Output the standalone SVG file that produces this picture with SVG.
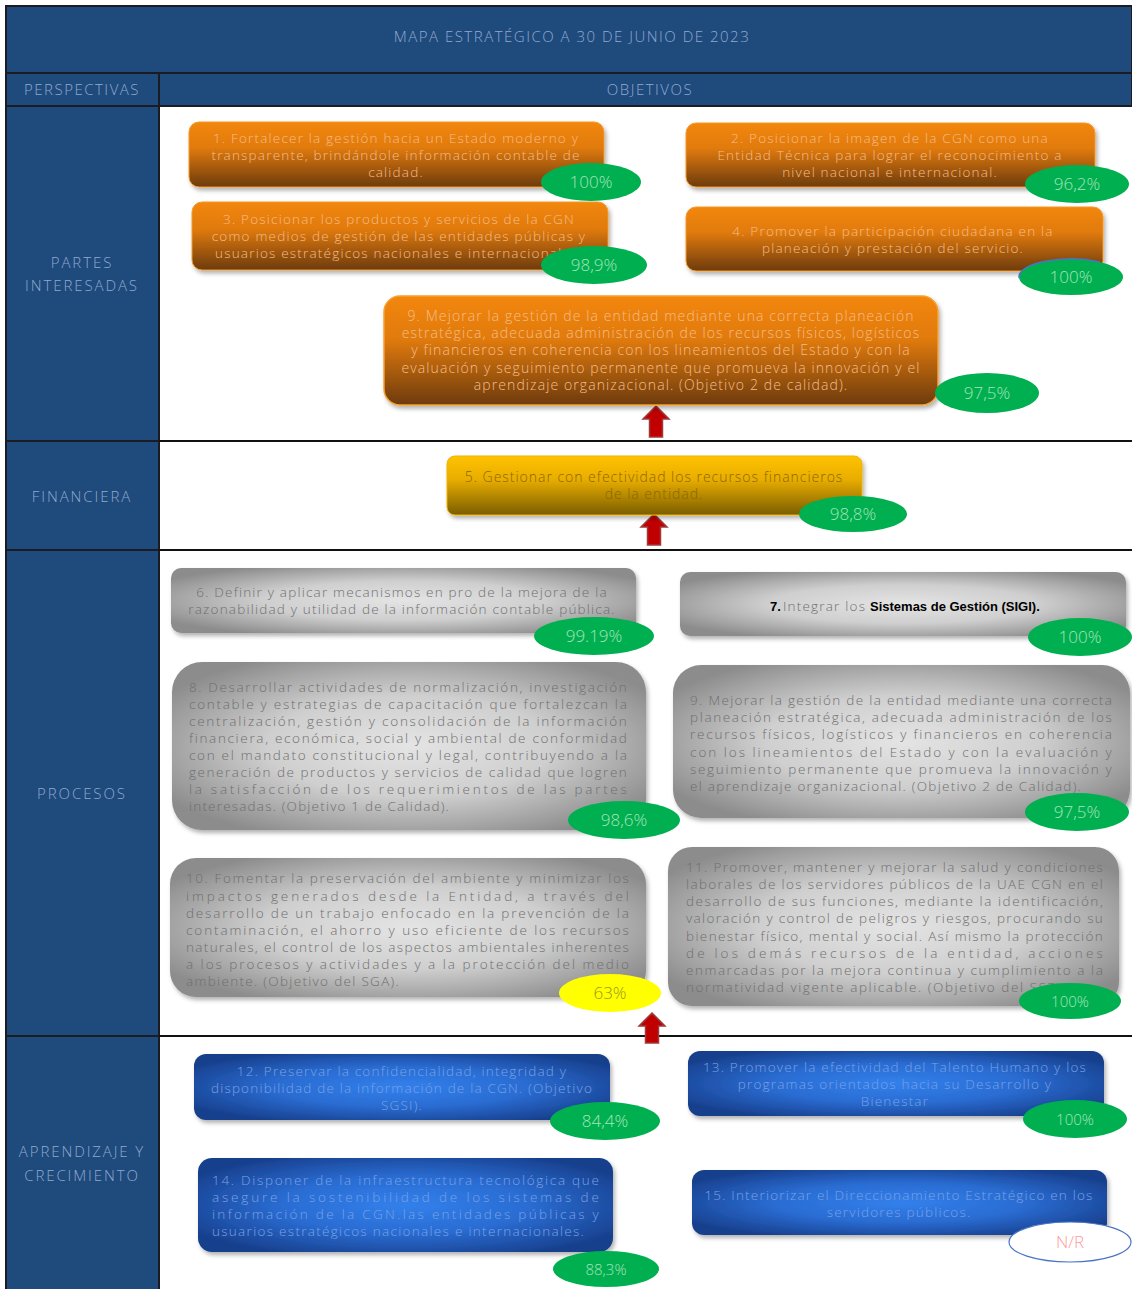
<svg xmlns="http://www.w3.org/2000/svg" width="1132" height="1289" viewBox="0 0 1132 1289">
<style>
.hd{font-family:"Open Sans","Liberation Sans",sans-serif;font-weight:300;font-size:15px;fill:#8fa9d1;text-anchor:middle;letter-spacing:1.5px}
.lb{letter-spacing:1.9px}
.ot{font-family:"Open Sans","Liberation Sans",sans-serif;font-weight:300;font-size:13.5px;letter-spacing:1.2px}
.c{text-anchor:middle}
.or{fill:#f5bd88}
.gd{fill:#8a6800;font-family:"Open Sans","Liberation Sans",sans-serif;font-size:14px;font-weight:300;text-anchor:middle;letter-spacing:0.97px}
.o9{fill:#f5bd88;font-family:"Open Sans","Liberation Sans",sans-serif;font-size:14px;font-weight:300;text-anchor:middle;letter-spacing:1.1px}
.gr{fill:#6f6f6f}
.bl{fill:#7aa2e4}
.pc{font-family:"Open Sans","Liberation Sans",sans-serif;font-weight:300;font-size:17px;fill:#a6e3ba;text-anchor:middle}
.grn{fill:#00b050}
.cell{fill:#1f4a7c;stroke:#1b1b24;stroke-width:2}
.ln{stroke:#111;stroke-width:2}
.arr{fill:#c00000;stroke:#9e3a3a;stroke-width:1.5}
.shb{filter:url(#sh)}
</style>
<defs>
<linearGradient id="gOr" x1="0" y1="0" x2="0" y2="1">
<stop offset="0" stop-color="#f3870f"/>
<stop offset="0.4" stop-color="#e07a0e"/>
<stop offset="1" stop-color="#6d3b0c"/>
</linearGradient>
<linearGradient id="gGd" x1="0" y1="0" x2="0" y2="1">
<stop offset="0" stop-color="#ffc200"/>
<stop offset="0.4" stop-color="#e8ad00"/>
<stop offset="1" stop-color="#7a5d00"/>
</linearGradient>
<radialGradient id="gGr" cx="0.5" cy="0.5" r="0.6">
<stop offset="0" stop-color="#e4e4e4"/>
<stop offset="0.5" stop-color="#cfcfcf"/>
<stop offset="1" stop-color="#8c8c8c"/>
</radialGradient>
<radialGradient id="gBl" cx="0.5" cy="0.5" r="0.6">
<stop offset="0" stop-color="#3280ec"/>
<stop offset="0.5" stop-color="#2a6cd2"/>
<stop offset="1" stop-color="#173f8c"/>
</radialGradient>
<filter id="sh" x="-5%" y="-10%" width="112%" height="130%">
<feDropShadow dx="2" dy="3" stdDeviation="2" flood-color="#000" flood-opacity="0.3"/>
</filter>
</defs>

<g id="table">
<rect class="cell" x="6" y="6" width="1126" height="67"/>
<rect class="cell" x="6" y="73" width="153" height="33"/>
<rect class="cell" x="159" y="73" width="973" height="33"/>
<rect class="cell" x="6" y="106" width="153" height="335"/>
<rect class="cell" x="6" y="441" width="153" height="109"/>
<rect class="cell" x="6" y="550" width="153" height="486"/>
<rect class="cell" x="6" y="1036" width="153" height="254"/>
<line class="ln" x1="159" y1="441" x2="1132" y2="441"/>
<line class="ln" x1="159" y1="550" x2="1132" y2="550"/>
<line class="ln" x1="159" y1="1036" x2="1132" y2="1036"/>
<text class="hd" x="572" y="42">MAPA ESTRATÉGICO A 30 DE JUNIO DE 2023</text>
<text class="hd" x="82" y="95">PERSPECTIVAS</text>
<text class="hd" x="650" y="95">OBJETIVOS</text>
<text class="hd lb" x="82" y="268">PARTES</text>
<text class="hd lb" x="82" y="291">INTERESADAS</text>
<text class="hd lb" x="82" y="502">FINANCIERA</text>
<text class="hd lb" x="82" y="799">PROCESOS</text>
<text class="hd lb" x="82" y="1157">APRENDIZAJE Y</text>
<text class="hd lb" x="82" y="1181">CRECIMIENTO</text>
</g>

<g id="connectors">
<polygon class="arr" points="656,406 669,419 662.5,419 662.5,437 649.5,437 649.5,419 643,419"/>
<polygon class="arr" points="654,514 667,527 660.5,527 660.5,545 647.5,545 647.5,527 641,527"/>
<polygon class="arr" points="652,1013 665,1026 658.5,1026 658.5,1043 645.5,1043 645.5,1026 639,1026"/>
</g>

<g id="obj1">
<rect class="shb" x="189" y="122" width="415" height="65" rx="10" fill="url(#gOr)" stroke="#f39a2e" stroke-width="1"/>
<text class="ot or c" x="396" y="143">1. Fortalecer la gestión hacia un Estado moderno y</text>
<text class="ot or c" x="396" y="160">transparente, brindándole información contable de</text>
<text class="ot or c" x="396" y="177">calidad.</text>
<ellipse class="grn" cx="591" cy="182" rx="50" ry="19"/>
<text class="pc" x="591" y="188">100%</text>
</g>

<g id="obj2">
<rect class="shb" x="686" y="123" width="409" height="64" rx="10" fill="url(#gOr)" stroke="#f39a2e" stroke-width="1"/>
<text class="ot or c" x="890" y="143">2. Posicionar la imagen de la CGN  como una</text>
<text class="ot or c" x="890" y="160">Entidad Técnica para lograr el reconocimiento a</text>
<text class="ot or c" x="890" y="177">nivel nacional e internacional.</text>
<ellipse class="grn" cx="1077" cy="184" rx="52" ry="19"/>
<text class="pc" x="1077" y="190">96,2%</text>
</g>

<g id="obj3">
<rect class="shb" x="192" y="202" width="416" height="68" rx="10" fill="url(#gOr)" stroke="#f39a2e" stroke-width="1"/>
<text class="ot or c" x="399" y="224">3. Posicionar los productos y servicios de la CGN</text>
<text class="ot or c" x="399" y="241">como medios de gestión de las entidades públicas y</text>
<text class="ot or c" x="399" y="258">usuarios estratégicos nacionales e internacionales.</text>
<ellipse class="grn" cx="594" cy="265" rx="53" ry="19"/>
<text class="pc" x="594" y="271">98,9%</text>
</g>

<g id="obj4">
<rect class="shb" x="686" y="207" width="417" height="64" rx="10" fill="url(#gOr)" stroke="#f39a2e" stroke-width="1"/>
<text class="ot or c" x="893" y="236">4.  Promover  la participación ciudadana en la</text>
<text class="ot or c" x="893" y="253">planeación y prestación del servicio.</text>
<ellipse class="grn" cx="1071" cy="277" rx="52" ry="18"/>
<path d="M1019,278 A52,18 0 0 1 1100,262" fill="none" stroke="#4a74c4" stroke-width="1.5"/>
<text class="pc" x="1071" y="283">100%</text>
</g>

<g id="obj9a">
<rect class="shb" x="384" y="296" width="554" height="109" rx="16" fill="url(#gOr)" stroke="#f7a030" stroke-width="1.5"/>
<text class="o9" x="661" y="321">9.  Mejorar la gestión de la entidad mediante una correcta planeación</text>
<text class="o9" x="661" y="338">estratégica, adecuada administración de los recursos físicos, logísticos</text>
<text class="o9" x="661" y="355">y financieros en coherencia con los lineamientos del Estado y con la</text>
<text class="o9" x="661" y="373">evaluación y seguimiento permanente que promueva la innovación y el</text>
<text class="o9" x="661" y="390">aprendizaje organizacional. (Objetivo 2 de calidad).</text>
<ellipse class="grn" cx="987" cy="393" rx="52" ry="20"/>
<text class="pc" x="987" y="399">97,5%</text>
</g>

<g id="obj5">
<rect class="shb" x="447" y="456" width="415" height="59" rx="8" fill="url(#gGd)" stroke="#f0b400" stroke-width="1"/>
<text class="gd" x="654" y="482">5. Gestionar con efectividad los recursos financieros</text>
<text class="gd" x="654" y="499">de la entidad.</text>
<ellipse class="grn" cx="853" cy="514" rx="54" ry="18"/>
<text class="pc" x="853" y="520">98,8%</text>
</g>

<g id="obj6">
<rect class="shb" x="171" y="568" width="465" height="65" rx="10" fill="url(#gGr)"/>
<text class="ot gr c" x="402" y="597">6.  Definir y aplicar mecanismos en pro de la mejora de la</text>
<text class="ot gr c" x="402" y="614">razonabilidad y  utilidad de la información contable pública.</text>
<ellipse class="grn" cx="594" cy="636" rx="60" ry="19"/>
<text class="pc" x="594" y="642">99.19%</text>
</g>

<g id="obj7">
<rect class="shb" x="680" y="572" width="446" height="64" rx="10" fill="url(#gGr)"/>
<text x="770" y="611" style="font-family:'Liberation Sans',sans-serif;font-size:13px"><tspan style="font-weight:bold;fill:#000">7.</tspan><tspan class="ot gr" x="783">Integrar los </tspan><tspan x="870" style="font-weight:bold;fill:#000;font-family:'Liberation Sans',sans-serif;font-size:13px">Sistemas de Gestión (SIGI).</tspan></text>
<ellipse class="grn" cx="1080" cy="637" rx="52" ry="19"/>
<text class="pc" x="1080" y="643">100%</text>
</g>

<g id="obj8">
<rect class="shb" x="172" y="662" width="474" height="168" rx="30" fill="url(#gGr)"/>
<text class="ot gr" x="189" y="692" textLength="439" lengthAdjust="spacing">8. Desarrollar actividades de normalización, investigación</text>
<text class="ot gr" x="189" y="709" textLength="439" lengthAdjust="spacing">contable y estrategias de capacitación que fortalezcan la</text>
<text class="ot gr" x="189" y="726" textLength="439" lengthAdjust="spacing">centralización, gestión y consolidación de la información</text>
<text class="ot gr" x="189" y="743" textLength="439" lengthAdjust="spacing">financiera, económica, social y ambiental de conformidad</text>
<text class="ot gr" x="189" y="760" textLength="439" lengthAdjust="spacing">con el mandato constitucional y legal, contribuyendo a la</text>
<text class="ot gr" x="189" y="777" textLength="439" lengthAdjust="spacing">generación de productos y servicios de calidad que logren</text>
<text class="ot gr" x="189" y="794" textLength="439" lengthAdjust="spacing">la satisfacción de los requerimientos de las partes</text>
<text class="ot gr" x="189" y="811" textLength="261" lengthAdjust="spacing">interesadas. (Objetivo 1 de Calidad).</text>
<ellipse class="grn" cx="624" cy="820" rx="56" ry="19"/>
<text class="pc" x="624" y="826">98,6%</text>
</g>

<g id="obj9b">
<rect class="shb" x="673" y="665" width="457" height="153" rx="28" fill="url(#gGr)"/>
<text class="ot gr" x="690" y="705" textLength="423" lengthAdjust="spacing">9. Mejorar la gestión de la entidad mediante una correcta</text>
<text class="ot gr" x="690" y="722" textLength="423" lengthAdjust="spacing">planeación estratégica, adecuada administración de los</text>
<text class="ot gr" x="690" y="739" textLength="423" lengthAdjust="spacing">recursos físicos, logísticos y financieros en coherencia</text>
<text class="ot gr" x="690" y="757" textLength="423" lengthAdjust="spacing">con los lineamientos del Estado y con la evaluación y</text>
<text class="ot gr" x="690" y="774" textLength="423" lengthAdjust="spacing">seguimiento permanente que promueva la innovación y</text>
<text class="ot gr" x="690" y="791" textLength="392" lengthAdjust="spacing">el aprendizaje organizacional. (Objetivo 2 de Calidad).</text>
<ellipse class="grn" cx="1077" cy="812" rx="52" ry="19"/>
<text class="pc" x="1077" y="818">97,5%</text>
</g>

<g id="obj10">
<rect class="shb" x="170" y="858" width="476" height="139" rx="26" fill="url(#gGr)"/>
<text class="ot gr" x="186" y="883" textLength="444" lengthAdjust="spacing">10. Fomentar la preservación del ambiente y minimizar los</text>
<text class="ot gr" x="186" y="901" textLength="444" lengthAdjust="spacing">impactos generados desde la Entidad, a través del</text>
<text class="ot gr" x="186" y="918" textLength="444" lengthAdjust="spacing">desarrollo de un trabajo enfocado en la prevención de la</text>
<text class="ot gr" x="186" y="935" textLength="444" lengthAdjust="spacing">contaminación, el ahorro y uso eficiente de los recursos</text>
<text class="ot gr" x="186" y="952" textLength="444" lengthAdjust="spacing">naturales, el control de los aspectos ambientales inherentes</text>
<text class="ot gr" x="186" y="969" textLength="444" lengthAdjust="spacing">a los procesos y actividades y a la protección del medio</text>
<text class="ot gr" x="186" y="986" textLength="214" lengthAdjust="spacing">ambiente. (Objetivo del SGA).</text>
<ellipse cx="610" cy="993" rx="51" ry="19" fill="#ffff00"/>
<text class="pc" x="610" y="999" style="fill:#9a9420">63%</text>
</g>

<g id="obj11">
<rect class="shb" x="668" y="847" width="451" height="159" rx="24" fill="url(#gGr)"/>
<text class="ot gr" x="686" y="872" textLength="418" lengthAdjust="spacing">11. Promover, mantener y mejorar la salud y condiciones</text>
<text class="ot gr" x="686" y="889" textLength="418" lengthAdjust="spacing">laborales de los servidores públicos de la UAE CGN en el</text>
<text class="ot gr" x="686" y="906" textLength="418" lengthAdjust="spacing">desarrollo de sus funciones, mediante la identificación,</text>
<text class="ot gr" x="686" y="923" textLength="418" lengthAdjust="spacing">valoración y control de peligros y riesgos, procurando su</text>
<text class="ot gr" x="686" y="941" textLength="418" lengthAdjust="spacing">bienestar físico, mental y social. Así mismo la protección</text>
<text class="ot gr" x="686" y="958" textLength="418" lengthAdjust="spacing">de los demás recursos de la entidad, acciones</text>
<text class="ot gr" x="686" y="975" textLength="418" lengthAdjust="spacing">enmarcadas por la mejora continua y cumplimiento a la</text>
<text class="ot gr" x="686" y="992" textLength="380" lengthAdjust="spacing">normatividad vigente aplicable. (Objetivo del SST).</text>
<ellipse class="grn" cx="1070" cy="1001" rx="51" ry="18"/>
<text class="pc" x="1070" y="1007" style="font-size:15px">100%</text>
</g>

<g id="obj12">
<rect class="shb" x="194" y="1054" width="416" height="66" rx="12" fill="url(#gBl)"/>
<text class="ot bl c" x="402" y="1076">12.  Preservar la confidencialidad,  integridad y</text>
<text class="ot bl c" x="402" y="1093">disponibilidad de la información de la CGN. (Objetivo</text>
<text class="ot bl c" x="402" y="1110">SGSI).</text>
<ellipse class="grn" cx="605" cy="1121" rx="55" ry="19"/>
<text class="pc" x="605" y="1127">84,4%</text>
</g>

<g id="obj13">
<rect class="shb" x="688" y="1051" width="416" height="65" rx="12" fill="url(#gBl)"/>
<text class="ot bl c" x="895" y="1072">13.  Promover la efectividad del Talento Humano y los</text>
<text class="ot bl c" x="895" y="1089">programas orientados hacia su Desarrollo y</text>
<text class="ot bl c" x="895" y="1106">Bienestar</text>
<ellipse class="grn" cx="1075" cy="1119" rx="52" ry="19"/>
<text class="pc" x="1075" y="1125" style="font-size:15px">100%</text>
</g>

<g id="obj14">
<rect class="shb" x="198" y="1158" width="415" height="94" rx="14" fill="url(#gBl)"/>
<text class="ot bl" x="212" y="1185" textLength="388" lengthAdjust="spacing">14.  Disponer de la infraestructura tecnológica que</text>
<text class="ot bl" x="212" y="1202" textLength="388" lengthAdjust="spacing">asegure la sostenibilidad de los sistemas de</text>
<text class="ot bl" x="212" y="1219" textLength="388" lengthAdjust="spacing">información de la CGN.las entidades públicas y</text>
<text class="ot bl" x="212" y="1236" textLength="373" lengthAdjust="spacing">usuarios estratégicos nacionales e internacionales.</text>
<ellipse class="grn" cx="606" cy="1269" rx="53" ry="18"/>
<text class="pc" x="606" y="1275" style="font-size:15px">88,3%</text>
</g>

<g id="obj15">
<rect class="shb" x="692" y="1170" width="415" height="65" rx="12" fill="url(#gBl)"/>
<text class="ot bl c" x="899" y="1200">15. Interiorizar el Direccionamiento Estratégico en los</text>
<text class="ot bl c" x="899" y="1217">servidores públicos.</text>
<ellipse cx="1070" cy="1242" rx="61" ry="20" fill="#ffffff" stroke="#4a74c4" stroke-width="1.2"/>
<text class="pc" x="1070" y="1248" style="fill:#ff9b9b">N/R</text>
</g>
</svg>
